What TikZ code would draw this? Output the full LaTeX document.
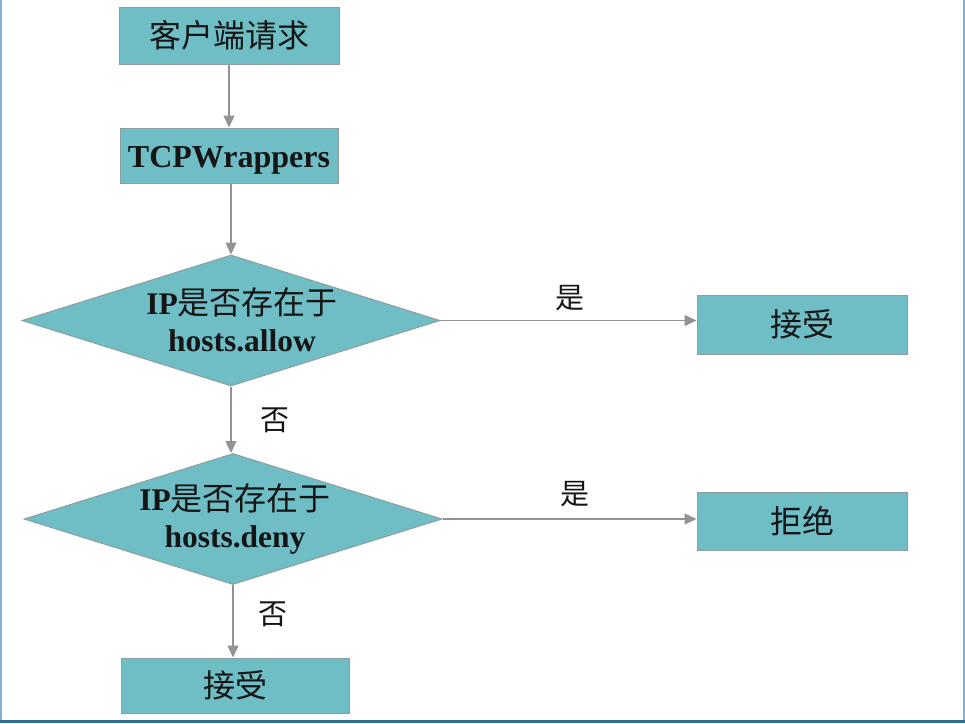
\documentclass[tikz,border=0pt]{standalone}
\usepackage{fontspec}
\setmainfont{Liberation Serif}
\newfontfamily\cjk{Noto Sans CJK SC}
\usetikzlibrary{shapes.geometric,arrows.meta}
\definecolor{boxfill}{HTML}{6FBEC6}
\definecolor{boxline}{HTML}{8E9EA0}
\definecolor{arrowgray}{HTML}{939393}
\definecolor{textc}{HTML}{151515}
\definecolor{framelight}{HTML}{7DB2D3}
\definecolor{framedark}{HTML}{2F6E93}
\begin{document}
\begin{tikzpicture}[x=1pt,y=-1pt,
  box/.style={rectangle, draw=boxline, fill=boxfill, line width=1pt, inner sep=0pt, text=textc},
  dia/.style={diamond, draw=boxline, fill=boxfill, line width=1pt, minimum width=418pt, minimum height=131pt, inner sep=0pt},
  conn/.style={draw=arrowgray, line width=1.2pt, -{Triangle[length=12pt,width=11pt]}},
  lbl/.style={font=\cjk\fontsize{29}{29}\selectfont, text=textc},
  cjkbig/.style={font=\cjk\fontsize{32}{32}\selectfont},
  dtext/.style={align=center, text=textc, font=\fontsize{31.5}{37}\selectfont\bfseries}]
\useasboundingbox (0,0) rectangle (965,723);
\fill[white] (0,0) rectangle (965,723);
% frame of the screenshot
\draw[framelight, line width=2pt] (1,0) -- (1,723);
\draw[framelight, line width=2pt] (963.5,0) -- (963.5,723);
\draw[framedark, line width=3pt] (0,721.5) -- (965,721.5);

\node[box, cjkbig, minimum width=220pt, minimum height=57pt] (b1) at (229,35.5) {客户端请求};
\node[box, minimum width=218pt, minimum height=55pt, font=\fontsize{32}{32}\selectfont\bfseries] (b2) at (229,155.5) {\raisebox{-5pt}[\height][\depth]{TCPWrappers}};
\node[dia] (d1) at (231,320.5) {};
\node[dtext] (t1) at (242,320) {IP{\cjk\mdseries\fontsize{32}{37}\selectfont 是否存在于}\\hosts.allow};
\node[box, cjkbig, minimum width=210pt, minimum height=59pt] (acc1) at (802,324.5) {接受};
\node[dia] (d2) at (233,519) {};
\node[dtext] (t2) at (235,518.5) {IP{\cjk\mdseries\fontsize{32}{37}\selectfont 是否存在于}\\hosts.deny};
\node[box, cjkbig, minimum width=210pt, minimum height=58pt] (rej) at (802,521) {拒绝};
\node[box, cjkbig, minimum width=228pt, minimum height=55pt] (acc2) at (235,685.5) {接受};

\node[lbl] (y1) at (570,298) {是};
\node[lbl] (n1) at (275,420) {否};
\node[lbl] (y2) at (575,494) {是};
\node[lbl] (n2) at (273,614) {否};

\draw[conn] (b1.south) -- (b2.north);
\draw[conn] (b2.south -| d1.north) -- (d1.north);
\draw[conn] (d1.east) -- (d1.east -| acc1.west);
\draw[conn] (d1.south) -- (d1.south |- d2.north);
\draw[conn] (d2.east) -- (d2.east -| rej.west);
\draw[conn] (d2.south) -- (d2.south |- acc2.north);
\end{tikzpicture}
\end{document}
